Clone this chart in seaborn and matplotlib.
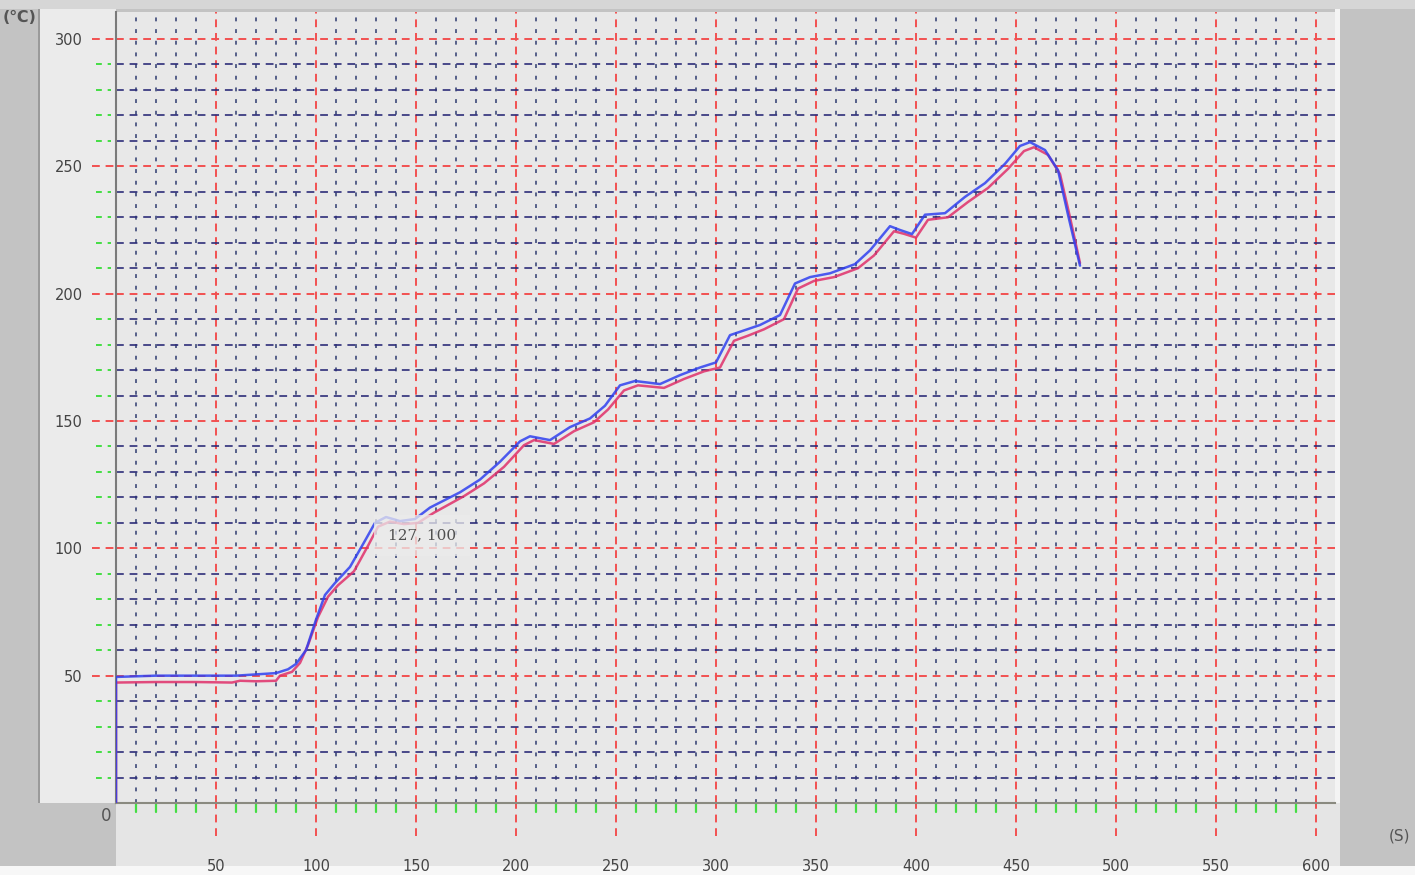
import numpy as np
import matplotlib
matplotlib.use("Agg")
import matplotlib.pyplot as plt
import matplotlib.patches as mpatches
import seaborn as sns

# blue probe
blue_t = [0, 0, 20, 40, 60, 70, 80, 86, 90, 95,
          100, 104.5, 109.5, 117, 124.5, 129.5, 135, 142, 149.5, 157,
          172, 182, 192, 202, 207, 217, 227, 237, 244.5, 252,
          259.5, 272, 282, 292, 300, 307, 314.5, 322, 332, 339.5,
          347, 357, 369.5, 377, 387, 392, 398, 404.5, 414.5, 424.5,
          434.5, 444.5, 452, 457, 464.5, 471, 476, 482]
blue_temp = [0, 49.5, 50, 50, 50, 50.5, 51, 52.5, 54.6, 60,
             72, 81.7, 86.4, 92.7, 103, 110, 112.3, 110.7, 111.5, 116,
             122, 127, 134, 142, 144, 142.5, 147.6, 151, 156, 164,
             165.7, 164.5, 168, 171, 173, 183.7, 185.7, 187.7, 191.6, 204,
             206.5, 208, 211.6, 217, 226.5, 225, 223.4, 231, 231.6, 238,
             243.4, 251, 258, 259.5, 256.4, 248.5, 231, 211]

# red probe
red_t = [0, 0, 20, 40, 58, 62, 70, 80, 82, 88,
         92, 96, 101, 106, 111, 119, 126, 131, 137, 144,
         151, 159, 174, 184, 194, 204, 209, 219, 229, 239,
         246, 254, 261, 274, 284, 294, 302, 309, 316, 324,
         334, 341, 349, 359, 371, 379, 389, 394, 400, 406,
         416, 426, 436, 446, 454, 459, 466, 472, 477, 482]
red_temp = [0, 47.3, 47.5, 47.5, 47.3, 48, 47.8, 48, 50, 51.5,
            55, 62, 73, 81, 85.5, 91, 101, 108.5, 110.5, 109.5,
            110, 114, 120.5, 125.5, 132, 140.5, 142.5, 141, 146, 149.5,
            154.5, 162, 164, 163, 166.5, 169.5, 171, 181.5, 183.5, 186,
            190, 202, 205, 206.5, 210, 215, 224.5, 223.5, 222, 229,
            230, 236, 241.5, 249, 256, 257.5, 254.5, 247, 230, 212]

x_major = [50, 100, 150, 200, 250, 300, 350, 400, 450, 500, 550, 600]
y_major = [50, 100, 150, 200, 250, 300]
cursor_label = "127, 100"

sns.set_style("white")
plt.rcParams['font.family'] = ['DejaVu Sans', 'Noto Sans CJK SC']

W, H = 1415, 875
fig = plt.figure(figsize=(W / 100, H / 100), dpi=100)
fig.patch.set_facecolor("#c3c3c3")


def px_rect(x0, y0, x1, y1, color, z=0):
    r = mpatches.Rectangle((x0 / W, 1 - y1 / H), (x1 - x0) / W, (y1 - y0) / H,
                           transform=fig.transFigure, facecolor=color,
                           edgecolor="none", zorder=z)
    fig.add_artist(r)


px_rect(0, 0, W, 9, "#d6d6d6")
px_rect(40, 9, 116, 803, "#ebebeb")
px_rect(116, 803, 1340, 866, "#e5e5e5")
px_rect(0, 866, W, H, "#f7f7f7")
px_rect(38, 9, 40, 803, "#9a9a9a")
px_rect(1335, 9, 1340, 803, "#f4f4f4")

ax = fig.add_axes([116 / W, 1 - 803 / H, (1335 - 116) / W, (803 - 12) / H])
ax.set_facecolor("#e8e8e8")
ax.set_xlim(0, 609.5)
ax.set_ylim(0, 310.6)

ax.set_xticks(x_major)
ax.set_yticks(y_major)
ax.set_xticks(np.arange(10, 610, 10), minor=True)
ax.set_yticks(np.arange(10, 310, 10), minor=True)
ax.xaxis.grid(which="minor", color="#3c4878", linestyle=(0, (2, 4)), linewidth=1.4, alpha=0.85)
ax.yaxis.grid(which="minor", color="#2c2c78", linestyle=(0, (4, 3)), linewidth=1.4, alpha=0.85)
ax.grid(which="major", color="#f25050", linestyle=(0, (4, 3)), linewidth=1.4)
ax.tick_params(which="both", length=0)
ax.tick_params(axis="y", pad=24, labelsize=10.5, labelcolor="#444444")
ax.tick_params(axis="x", pad=40, labelsize=10.5, labelcolor="#444444")
ax.set_xticklabels([str(v) for v in x_major])
ax.set_yticklabels([str(v) for v in y_major])

for side in ["top", "right"]:
    ax.spines[side].set_visible(False)
ax.spines["left"].set_color("#7a7a7a")
ax.spines["left"].set_linewidth(1.5)
ax.spines["bottom"].set_color("#8a8a80")
ax.spines["bottom"].set_linewidth(1.5)

# grid stubs outside the plot area
ytr = ax.get_yaxis_transform()
xtr = ax.get_xaxis_transform()
for v in y_major:
    ax.plot([-0.02, 0], [v, v], transform=ytr, clip_on=False,
            color="#f25050", linestyle=(0, (4, 3)), linewidth=1.4)
for v in np.arange(10, 310, 10):
    if v % 50:
        ax.plot([-0.016, -0.004], [v, v], transform=ytr, clip_on=False,
                color="#44dd44", linestyle=(0, (3, 3)), linewidth=1.4)
for v in x_major:
    ax.plot([v, v], [-0.042, 0], transform=xtr, clip_on=False,
            color="#f25050", linestyle=(0, (4, 3)), linewidth=1.4)
for v in np.arange(10, 610, 10):
    if v % 50:
        ax.plot([v, v], [-0.012, 0], transform=xtr, clip_on=False,
                color="#44dd44", linewidth=1.6)

sns.lineplot(x=red_t, y=red_temp, ax=ax, color="#e0306a", linewidth=1.8,
             estimator=None, sort=False, alpha=0.85, zorder=5)
sns.lineplot(x=blue_t, y=blue_temp, ax=ax, color="#3040f0", linewidth=1.8,
             estimator=None, sort=False, alpha=0.85, zorder=6)

ax.text(136, 105, cursor_label, fontsize=11, family="DejaVu Serif",
        color="#505050", va="center", ha="left", zorder=7,
        bbox=dict(boxstyle="square,pad=0.9", facecolor="#ececec",
                  edgecolor="none", alpha=0.75))

fig.text(20 / W, 1 - 17 / H, "(\u2103)", fontsize=11.5, color="#555555",
         ha="center", va="center", fontweight="bold")
fig.text(106 / W, 1 - 816 / H, "0", fontsize=12, color="#555555",
         ha="center", va="center")
fig.text(1400 / W, 1 - 836 / H, "(S)", fontsize=11, color="#555555",
         ha="center", va="center")

fig.savefig("out.png", dpi=100, facecolor=fig.get_facecolor())
